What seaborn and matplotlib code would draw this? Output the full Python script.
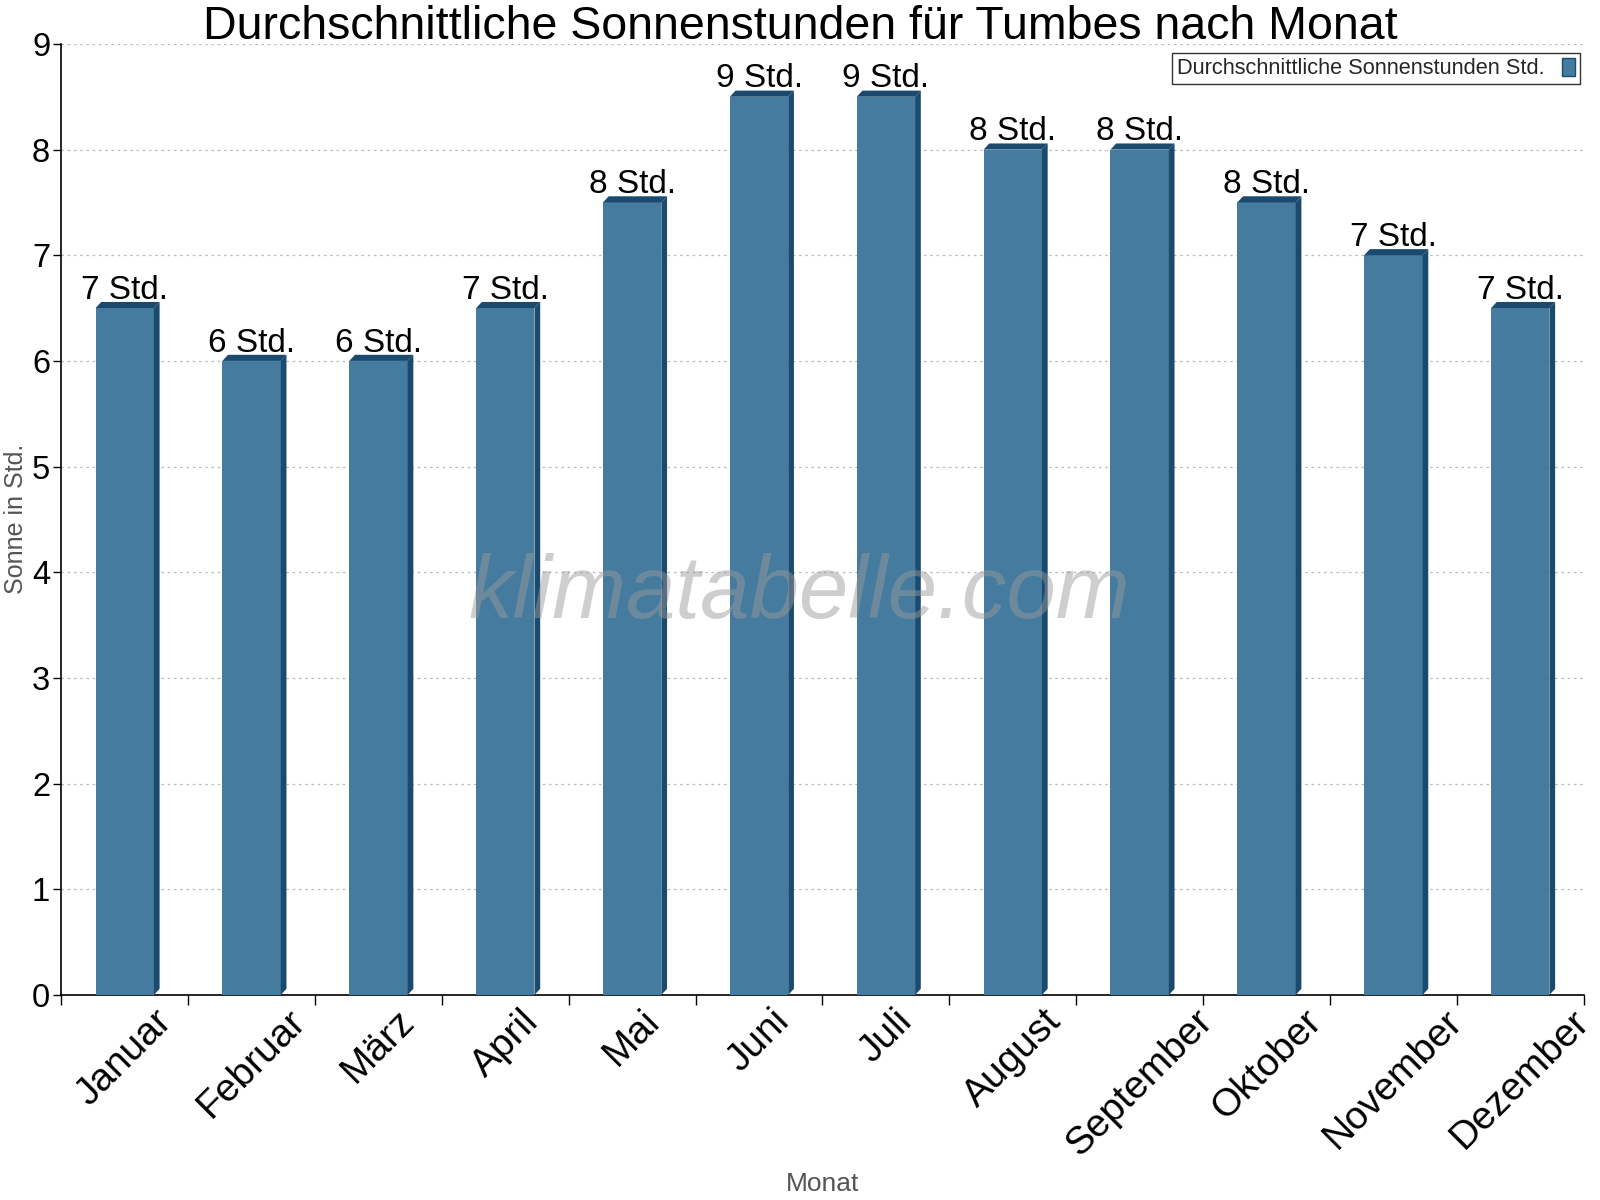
import math
import matplotlib
matplotlib.use("Agg")
import matplotlib.pyplot as plt
from matplotlib.patches import Polygon
import seaborn as sns
import pandas as pd

months = ["Januar", "Februar", "März", "April", "Mai", "Juni", "Juli",
          "August", "September", "Oktober", "November", "Dezember"]
sun_hours = [6.5, 6.0, 6.0, 6.5, 7.5, 8.5, 8.5, 8.0, 8.0, 7.5, 7.0, 6.5]
series_name = "Durchschnittliche Sonnenstunden Std."
title = "Durchschnittliche Sonnenstunden für Tumbes nach Monat"

sns.set_theme(style="white")
plt.rcParams['font.family'] = ['Liberation Sans', 'DejaVu Sans']

front = "#467ba0"
dark = "#1a4a6e"

df = pd.DataFrame({"Monat": months, "Sonne": sun_hours})

fig = plt.figure(figsize=(16, 12), dpi=100)
L, R, B, T = 0.0383, 0.9898, 0.1709, 0.9634
ax = fig.add_axes([L, B, R - L, T - B])

sns.barplot(data=df, x="Monat", y="Sonne", color=front, width=0.46,
            saturation=1, ax=ax, label=series_name, zorder=3)

ax.set_ylim(0, 9)
ax.set_xlim(-0.5, len(months) - 0.5)

dx = 0.045
dy = 0.058
for p, v in zip(ax.patches, sun_hours):
    x0 = p.get_x()
    x1 = x0 + p.get_width()
    h = p.get_height()
    p.set_edgecolor("none")
    top = Polygon([(x0, h), (x0 + dx, h + dy), (x1 + dx, h + dy), (x1, h)],
                  closed=True, facecolor=dark, edgecolor="none", zorder=3)
    side = Polygon([(x1, 0), (x1 + dx, dy), (x1 + dx, h + dy), (x1, h)],
                   closed=True, facecolor=dark, edgecolor="none", zorder=3)
    ax.add_patch(top)
    ax.add_patch(side)
    ax.text(x0 + p.get_width() / 2, h + dy + 0.03,
            f"{math.floor(v + 0.5)} Std.", ha="center", va="baseline",
            fontsize=24, color="black", zorder=4)

ax.set_yticks(range(0, 10))
ax.yaxis.grid(True, linestyle=(0, (2, 3)), color="#bbbbbb", linewidth=0.9, zorder=0)
ax.xaxis.grid(False)
for s in ["top", "right"]:
    ax.spines[s].set_visible(False)
for s in ["left", "bottom"]:
    ax.spines[s].set_color("black")
    ax.spines[s].set_linewidth(1.2)

ax.set_xticks(list(range(len(months))))
ax.set_xticklabels(months, rotation=45, ha="center", va="top",
                   rotation_mode="default", fontsize=28, color="black")
ax.tick_params(axis="x", length=0, pad=6)
ax.set_xticks([i - 0.5 for i in range(len(months) + 1)], minor=True)
ax.tick_params(axis="x", which="minor", length=7, width=1, color="black",
               direction="out", bottom=True)
ax.tick_params(axis="y", labelsize=23.5, labelcolor="black", length=6, width=1,
               color="black", direction="out", left=True, pad=2)

ax.set_xlabel("")
ax.set_ylabel("")
fig.text(0.0098, 0.568, "Sonne in Std.", rotation=90, ha="center", va="center",
         fontsize=18, color="#555555")
fig.text(0.514, 0.0136, "Monat", ha="center", va="center",
         fontsize=19, color="#555555")

fig.text(0.5, 1 - 38 / 1176, title, ha="center", va="baseline",
         fontsize=33.5, color="black")

leg = ax.legend(loc="upper right", markerfirst=False, fontsize=15.7,
                frameon=True, fancybox=False, handlelength=0.6,
                handleheight=0.9, borderpad=0.22, handletextpad=0.8,
                borderaxespad=0,
                bbox_to_anchor=(1548 / 1568, 1 - 52 / 1176),
                bbox_transform=fig.transFigure)
leg.get_frame().set_edgecolor("black")
leg.get_frame().set_linewidth(1.0)
for hd in leg.legend_handles:
    hd.set_edgecolor(dark)
    hd.set_linewidth(1)

fig.text(0.4994, 0.504, "klimatabelle.com",
         fontsize=64, style="italic", color="#999999", alpha=0.48,
         ha="center", va="center", zorder=5)

fig.savefig("out.png", dpi=100)
